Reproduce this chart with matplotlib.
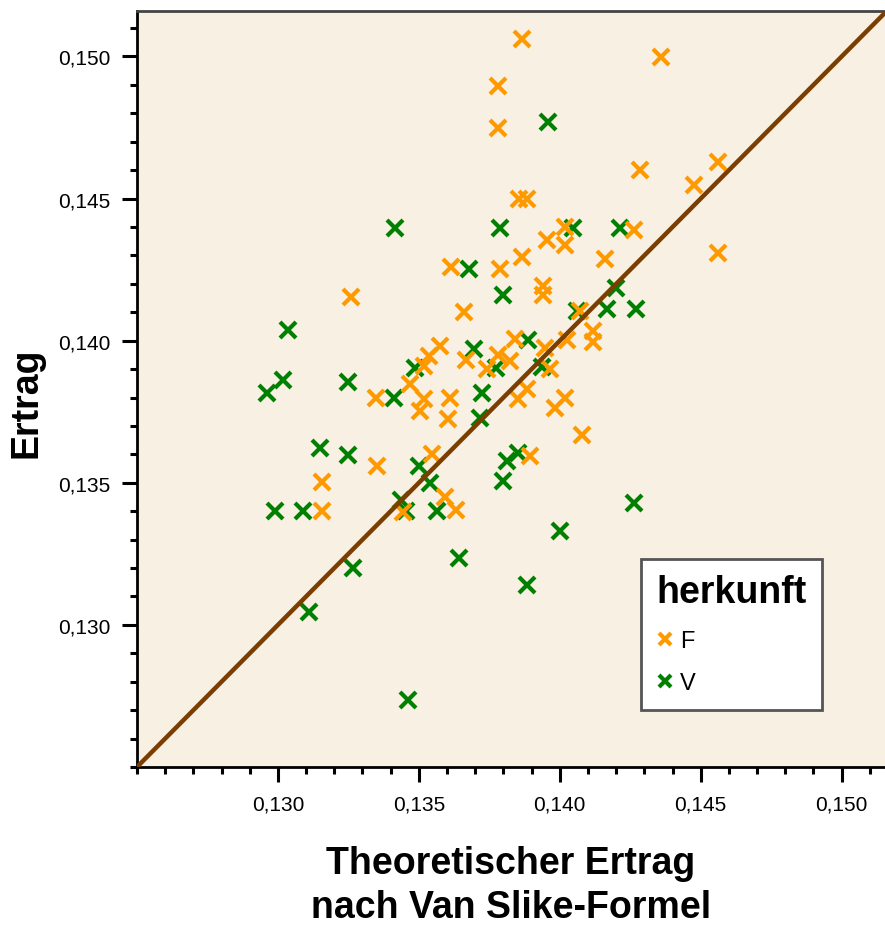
import matplotlib
matplotlib.use("Agg")
import matplotlib.pyplot as plt
from matplotlib.ticker import MultipleLocator, FixedLocator, FuncFormatter
from matplotlib.lines import Line2D

# ---- data ----
f_x = [0.13866, 0.14358, 0.13781, 0.13781, 0.14561, 0.14283, 0.14475, 0.13855, 0.13884,
       0.14019, 0.13955, 0.14019, 0.14262, 0.13866, 0.14162, 0.14561, 0.13788, 0.13613,
       0.13260, 0.13941, 0.13941, 0.13659, 0.14073, 0.13841, 0.13948, 0.14026, 0.14119,
       0.14119, 0.13574, 0.13535, 0.13517, 0.13666, 0.13781, 0.13823, 0.13741, 0.13966,
       0.13467, 0.13349, 0.13517, 0.13503, 0.13609, 0.13602, 0.13884, 0.13852, 0.14019,
       0.13984, 0.14080, 0.13895, 0.13353, 0.13545, 0.13592, 0.13442, 0.13631, 0.13157,
       0.13157]
f_y = [0.15062, 0.14999, 0.14896, 0.14748, 0.14628, 0.14600, 0.14547, 0.14498, 0.14498,
       0.14399, 0.14353, 0.14335, 0.14388, 0.14296, 0.14289, 0.14307, 0.14251, 0.14258,
       0.14152, 0.14194, 0.14159, 0.14102, 0.14106, 0.14007, 0.13975, 0.14004, 0.14035,
       0.13996, 0.13982, 0.13947, 0.13912, 0.13933, 0.13951, 0.13929, 0.13901, 0.13901,
       0.13848, 0.13799, 0.13795, 0.13753, 0.13799, 0.13725, 0.13831, 0.13795, 0.13799,
       0.13764, 0.13668, 0.13594, 0.13559, 0.13601, 0.13449, 0.13397, 0.13404, 0.13400,
       0.13502]

v_x = [0.13959, 0.13417, 0.13788, 0.14048, 0.14215, 0.13677, 0.13798, 0.14198, 0.14062,
       0.14169, 0.14272, 0.13887, 0.13695, 0.13488, 0.13773, 0.13937, 0.13018, 0.12961,
       0.13249, 0.13413, 0.13723, 0.13716, 0.13150, 0.13249, 0.13499, 0.13813, 0.13852,
       0.13538, 0.13798, 0.12989, 0.13089, 0.13435, 0.13456, 0.13563, 0.13642, 0.13267,
       0.13110, 0.13463, 0.14262, 0.14001, 0.13884, 0.13036]
v_y = [0.14769, 0.14395, 0.14395, 0.14395, 0.14395, 0.14251, 0.14159, 0.14184, 0.14106,
       0.14113, 0.14113, 0.14004, 0.13972, 0.13905, 0.13905, 0.13908, 0.13862, 0.13816,
       0.13855, 0.13799, 0.13816, 0.13728, 0.13622, 0.13598, 0.13559, 0.13577, 0.13605,
       0.13499, 0.13506, 0.13400, 0.13400, 0.13439, 0.13400, 0.13400, 0.13234, 0.13199,
       0.13047, 0.12737, 0.13428, 0.13329, 0.13142, 0.14039]

group_names = ["F", "V"]
legend_title = "herkunft"
x_label = "Theoretischer Ertrag\nnach Van Slike-Formel"
y_label = "Ertrag"
tick_values = [0.130, 0.135, 0.140, 0.145, 0.150]
axis_lo, axis_hi_x, axis_hi_y = 0.125, 0.1516, 0.1516

# ---- style ----
ORANGE = "#FF9900"
GREEN = "#008000"
BROWN = "#7A3E00"
BG = "#F7F0E3"
FONT = ["Liberation Sans", "DejaVu Sans"]
plt.rcParams["font.family"] = FONT

fig = plt.figure(figsize=(8.85, 9.29), dpi=100)
ax = fig.add_axes([137 / 885, 1 - 768 / 929, 1 - 137 / 885 + 0.002, (768 - 12) / 929])
ax.set_facecolor(BG)

ms, mew = 11, 3.0
ax.plot(v_x, v_y, linestyle="none", marker="x", ms=ms, mew=mew, color=GREEN, zorder=3)
ax.plot(f_x, f_y, linestyle="none", marker="x", ms=ms, mew=mew, color=ORANGE, zorder=3)
ax.axline((axis_lo, axis_lo), slope=1, color=BROWN, lw=3.2, zorder=4)

ax.set_xlim(axis_lo, axis_hi_x)
ax.set_ylim(axis_lo, axis_hi_y)

fmt = FuncFormatter(lambda v, p: f"{v:.3f}".replace(".", ","))
for axis in (ax.xaxis, ax.yaxis):
    axis.set_major_locator(FixedLocator(tick_values))
    axis.set_minor_locator(MultipleLocator(0.001))
    axis.set_major_formatter(fmt)

ax.tick_params(which="major", direction="out", length=11, width=2.2, labelsize=15,
               colors="black")
ax.tick_params(which="minor", direction="out", length=5, width=2.2)
ax.tick_params(axis="x", which="major", pad=9)
ax.tick_params(axis="y", which="major", pad=8)

for s in ("left", "bottom"):
    ax.spines[s].set_linewidth(2.0)
    ax.spines[s].set_color("black")
ax.spines["top"].set_linewidth(2.0)
ax.spines["top"].set_color("#444444")
ax.spines["right"].set_visible(False)

ax.set_xlabel(x_label, fontsize=27, fontweight="bold", linespacing=1.3)
ax.xaxis.set_label_coords((510 - 137) / 748, -(886 - 768) / 756)
ax.xaxis.label.set_verticalalignment("center")
ax.set_ylabel(y_label, fontsize=27, fontweight="bold")
ax.yaxis.set_label_coords((27 - 137) / 748, (768 - 403) / 756)
ax.yaxis.label.set_verticalalignment("center")

handles = [Line2D([], [], linestyle="none", marker="x", ms=9, mew=3.0, color=ORANGE),
           Line2D([], [], linestyle="none", marker="x", ms=9, mew=3.0, color=GREEN)]
leg = ax.legend(handles, group_names, title=legend_title, loc="upper left",
                bbox_to_anchor=((640 - 137) / 748, (768 - 560) / 756), frameon=True,
                fancybox=False, fontsize=17,
                title_fontproperties={"size": 27, "weight": "bold"},
                handlelength=0.7, handletextpad=0.3, borderpad=0.65, labelspacing=0.85,
                alignment="left", borderaxespad=0)
leg.get_frame().set_edgecolor("#555555")
leg.get_frame().set_linewidth(2.0)
leg.get_frame().set_facecolor("white")
leg.get_frame().set_alpha(1)
leg.set_zorder(5)

fig.savefig("out.png", dpi=100, facecolor="white")
